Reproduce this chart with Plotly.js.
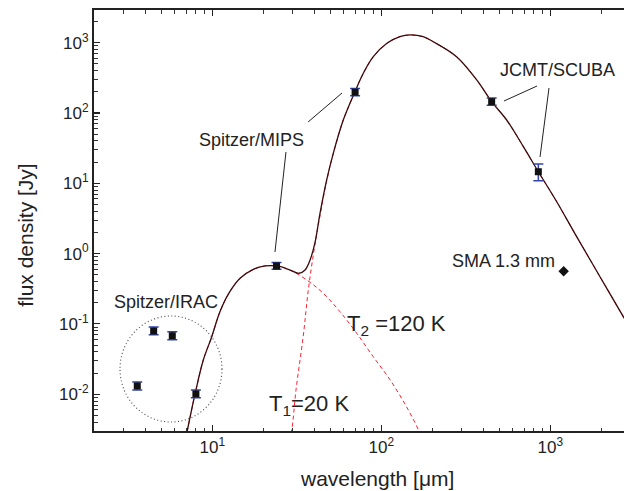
<!DOCTYPE html>
<html><head><meta charset="utf-8">
<script src="https://cdn.plot.ly/plotly-3.0.1.min.js"></script>
<style>html,body{margin:0;padding:0;overflow:hidden;background:#fff}#chart{width:660px;height:491px}</style>
</head><body><div id="chart"></div>
<script>
// ---- photometry ----
const photWave = [3.6, 4.5, 5.8, 8.0, 24, 70, 450, 850];
const photFlux = [0.0131, 0.0793, 0.0679, 0.0101, 0.667, 198, 145, 14.6];
const photErrUp = [0.0018, 0.011, 0.0095, 0.0014, 0.08, 25, 18, 4.2];
const photErrDn = [0.0016, 0.0095, 0.0082, 0.0012, 0.07, 22, 16, 3.7];
const smaWave = [1200];
const smaFlux = [0.56];

// ---- fitted SED (total) ----
const totalWave = [6.85, 7.11, 7.91, 8.85, 9.93, 11.1, 12.7, 14.6, 17.5, 20.5, 24.1, 28.2, 32.6, 35.4, 37.9, 40.5, 43.4, 47.5, 52.0, 59.6, 69.9, 78.3, 89.7, 108, 129, 148, 177, 203, 279, 367, 450, 552, 693, 850, 1092, 1433, 1969, 2704, 3400];
const totalFlux = [0.0019, 0.0030, 0.0101, 0.0306, 0.0658, 0.149, 0.287, 0.446, 0.598, 0.667, 0.667, 0.598, 0.525, 0.585, 0.811, 1.42, 3.74, 11.1, 26.7, 79.5, 201, 367, 632, 980, 1217, 1288, 1217, 1033, 632, 295, 145, 79.5, 33.2, 14.6, 5.47, 1.74, 0.469, 0.127, 0.05];

// ---- warm component T2 = 120 K ----
const warmWave = [6.85, 7.11, 7.91, 8.85, 9.93, 11.1, 12.7, 14.6, 17.5, 20.5, 24.1, 28.2, 36.2, 45.4, 57.0, 71.6, 89.7, 113, 141, 166, 174];
const warmFlux = [0.0019, 0.0030, 0.0101, 0.0306, 0.0658, 0.149, 0.287, 0.446, 0.598, 0.667, 0.667, 0.598, 0.422, 0.272, 0.149, 0.0735, 0.0341, 0.0159, 0.00664, 0.0031, 0.00223];

// ---- cold component T1 = 20 K ----
const coldWave = [28.4, 29.5, 31.3, 34.6, 37.0, 39.6, 41.7, 43.4, 47.5, 52.0, 59.6, 69.9, 78.3, 89.7, 108, 129, 148, 177, 203, 279, 367, 450, 552, 693, 850, 1092, 1433, 1969, 2704, 3400];
const coldFlux = [0.00223, 0.0031, 0.0115, 0.0695, 0.303, 0.955, 2.03, 3.44, 10.8, 26.5, 79.3, 201, 367, 632, 980, 1217, 1288, 1217, 1033, 632, 295, 145, 79.5, 33.2, 14.6, 5.47, 1.74, 0.469, 0.127, 0.05];

// ---- ticks ----
const xTickVals = [10, 100, 1000];
const xTickText = ['10<sup>1</sup>', '10<sup>2</sup>', '10<sup>3</sup>'];
const yTickVals = [0.01, 0.1, 1, 10, 100, 1000];
const yTickText = ['10<sup>-2</sup>', '10<sup>-1</sup>', '10<sup>0</sup>', '10<sup>1</sup>', '10<sup>2</sup>', '10<sup>3</sup>'];
const xDecades = [1, 10, 100, 1000];
const yDecades = [0.001, 0.01, 0.1, 1, 10, 100, 1000];
const minorDigits = [2, 3, 4, 5, 6, 7, 8, 9];

// ---- labels (position in data units) ----
const labelText = ['Spitzer/IRAC', 'Spitzer/MIPS', 'JCMT/SCUBA', 'SMA 1.3 mm'];
const labelWave = [5.35, 16.95, 1099, 527];
const labelFlux = [0.207, 41.3, 409, 0.792];
// leader lines [wave0, flux0, wave1, flux1]
const leaders = [
  [36.9, 74.5, 58.6, 192.6],
  [27.3, 27.9, 23.5, 1.054],
  [835, 242, 532, 148],
  [983, 227, 870, 23.7]
];
const ircCircle = [2.845, 0.00402, 11.42, 0.1295];

const FONT = 'Liberation Sans, Arial, Helvetica, sans-serif';
const minorOf = decs => decs.flatMap(d => minorDigits.map(m => d * m));

const red = '#ff1f2f';
const traces = [
  {x: warmWave, y: warmFlux, mode: 'lines', line: {color: red, width: 1, dash: '4px,3px', shape: 'spline'}, hoverinfo: 'skip'},
  {x: coldWave, y: coldFlux, mode: 'lines', line: {color: red, width: 1, dash: '4px,3px', shape: 'spline'}, hoverinfo: 'skip'},
  {x: totalWave, y: totalFlux, mode: 'lines', line: {color: '#3a0a0c', width: 1.3, shape: 'spline'}},
  {x: photWave, y: photFlux, mode: 'markers', marker: {symbol: 'square', size: 7, color: '#111'},
   error_y: {type: 'data', symmetric: false, array: photErrUp, arrayminus: photErrDn, color: '#3344aa', thickness: 1.5, width: 5}},
  {x: smaWave, y: smaFlux, mode: 'markers', marker: {symbol: 'diamond', size: 8, color: '#111'}}
];

const axisCommon = {
  type: 'log', showline: true, linewidth: 2, linecolor: '#222', mirror: 'ticks',
  ticks: 'inside', ticklen: 6, tickwidth: 1.2, tickcolor: '#222',
  tickmode: 'array', showgrid: false, zeroline: false,
  tickfont: {family: FONT, size: 17, color: '#222'}
};

const annotations = labelText.map((t, i) => ({
  text: t, x: Math.log10(labelWave[i]), y: Math.log10(labelFlux[i]), xref: 'x', yref: 'y',
  xanchor: 'center', yanchor: 'middle',
  showarrow: false, font: {family: FONT, size: 18, color: '#222'}
}));
annotations.push({text: 'T<sub>2</sub> =120 K', x: Math.log10(61.0), y: Math.log10(0.0965), xref: 'x', yref: 'y',
  xanchor: 'left', yanchor: 'middle', showarrow: false, font: {family: FONT, size: 22, color: '#222'}});
annotations.push({text: 'T<sub>1</sub>=20 K', x: Math.log10(21.0), y: Math.log10(0.00702), xref: 'x', yref: 'y',
  xanchor: 'left', yanchor: 'middle', showarrow: false, font: {family: FONT, size: 22, color: '#222'}});
annotations.push({text: 'wavelength [\u03bcm]', x: 0.5, y: -0.112, xref: 'paper', yref: 'paper',
  xanchor: 'center', yanchor: 'middle', showarrow: false, font: {family: FONT, size: 21, color: '#222'}});
annotations.push({text: 'flux density [Jy]', x: -0.121, y: 0.465, xref: 'paper', yref: 'paper', textangle: -90,
  xanchor: 'center', yanchor: 'middle', showarrow: false, font: {family: FONT, size: 21, color: '#222'}});

const shapes = leaders.map(l => ({type: 'line', xref: 'x', yref: 'y', x0: l[0], y0: l[1], x1: l[2], y1: l[3],
  line: {color: '#222', width: 1}}));
shapes.push({type: 'circle', xref: 'x', yref: 'y', x0: ircCircle[0], y0: ircCircle[1], x1: ircCircle[2], y1: ircCircle[3],
  line: {color: '#444', width: 1.1, dash: '1px,2.5px'}});

const layout = {
  width: 660, height: 491,
  margin: {l: 94, r: 1, t: 10, b: 60},
  paper_bgcolor: '#fff', plot_bgcolor: '#fff', showlegend: false,
  xaxis: Object.assign({}, axisCommon, {range: [0.3002, 3.6434], tickvals: xTickVals, ticktext: xTickText,
    minor: {tickmode: 'array', tickvals: minorOf(xDecades), ticks: 'inside', ticklen: 3.5, tickwidth: 1, tickcolor: '#333', showgrid: false}}),
  yaxis: Object.assign({}, axisCommon, {range: [-2.5235, 3.4651], tickvals: yTickVals, ticktext: yTickText,
    minor: {tickmode: 'array', tickvals: minorOf(yDecades), ticks: 'inside', ticklen: 3.5, tickwidth: 1, tickcolor: '#333', showgrid: false}}),
  annotations: annotations,
  shapes: shapes
};

Plotly.newPlot('chart', traces, layout, {staticPlot: true, displayModeBar: false});
</script></body></html>
